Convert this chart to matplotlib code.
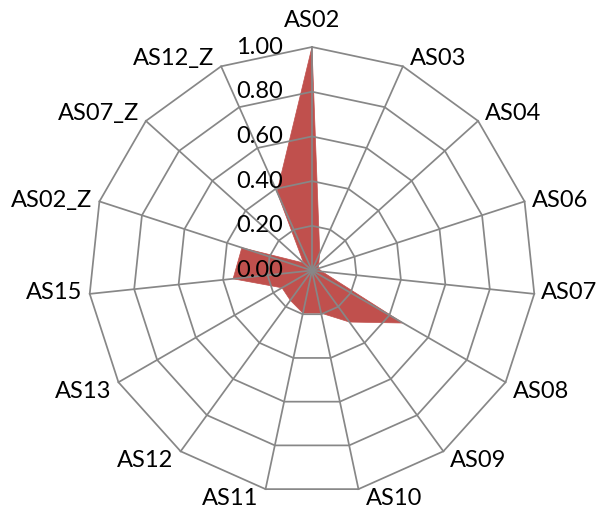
import numpy as np
import matplotlib
matplotlib.use('Agg')
import matplotlib.pyplot as plt

# radar data, clockwise from top
categories = ['AS02', 'AS03', 'AS04', 'AS06', 'AS07', 'AS08', 'AS09', 'AS10',
              'AS11', 'AS12', 'AS13', 'AS15', 'AS02_Z', 'AS07_Z', 'AS12_Z']
values = [1.00, 0.085, 0.04, 0.03, 0.045, 0.47, 0.285, 0.195,
          0.195, 0.165, 0.155, 0.355, 0.33, 0.05, 0.385]
ring_levels = [0.2, 0.4, 0.6, 0.8, 1.0]
tick_labels = ['0.00', '0.20', '0.40', '0.60', '0.80', '1.00']

plt.rcParams['font.family'] = ['Lato', 'DejaVu Sans']
FS = 17
GRID = '#878787'
FILL = '#c0504d'

W, H = 597, 508
cx, cy, R = 312, 270.5, 223.5  # pixel layout of the plot area

fig = plt.figure(figsize=(W / 100, H / 100), dpi=100)
ax = fig.add_axes([0, 0, 1, 1])
ax.set_xlim(-cx / R, (W - cx) / R)
ax.set_ylim(-(H - cy) / R, cy / R)
ax.set_aspect('equal')
ax.axis('off')

n = len(categories)
theta = 2 * np.pi * np.arange(n) / n
sx, cy_dir = np.sin(theta), np.cos(theta)


def to_xy(r):
    r = np.asarray(r, dtype=float)
    return r * sx, r * cy_dir


# series
vx, vy = to_xy(values)
ax.fill(vx, vy, color=FILL, lw=0.5, ec=FILL, zorder=1)

# polygon rings and spokes
for lev in ring_levels:
    gx, gy = to_xy(np.full(n, lev))
    ax.plot(np.append(gx, gx[0]), np.append(gy, gy[0]), color=GRID, lw=1.25, zorder=2)
for i in range(n):
    ax.plot([0, sx[i]], [0, cy_dir[i]], color=GRID, lw=1.25, zorder=2)

# radial tick labels
for k, lab in enumerate(tick_labels):
    ax.annotate(lab, xy=(0, k * 0.2), xytext=(-29, 0), textcoords='offset pixels',
                ha='right', va='center', fontsize=FS, zorder=3)

# category labels
for i, cat in enumerate(categories):
    s, c = sx[i], cy_dir[i]
    if abs(s) < 0.01:
        ha, va, off = 'center', 'baseline', (0, 20)
    else:
        ha = 'left' if s > 0 else 'right'
        dx = 7 if s > 0 else -7
        if c > 0.5:
            va, off = 'baseline', (dx, 1)
        elif c > -0.3:
            va, off = 'center', (dx, 1)
        else:
            va, off = 'top', (dx, 1)
    ax.annotate(cat, xy=(s, c), xytext=off, textcoords='offset pixels',
                ha=ha, va=va, fontsize=FS, zorder=3)

fig.savefig('out.png', dpi=100)
